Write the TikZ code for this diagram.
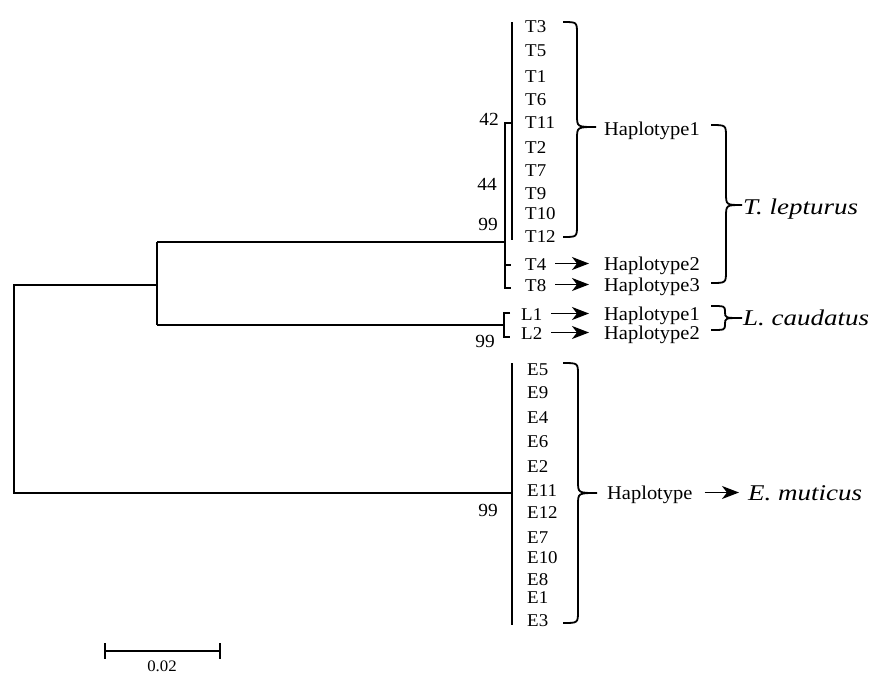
\documentclass[tikz,border=0pt]{standalone}
\usepackage{fontspec}
\setmainfont{Liberation Serif}[FakeStretch=1.05]
\newfontfamily\spfont{Liberation Serif}[FakeStretch=1.2]
\usetikzlibrary{arrows.meta}
\newcommand{\drawbrace}[7]{%
  \draw[bracestyle] (#1,#4) .. controls (#2,#4) .. (#2,{#4+#7}) -- (#2,{#5-#7})
    .. controls (#2,#5) .. (#3,#5) .. controls (#2,#5) .. (#2,{#5+#7})
    -- (#2,{#6-#7}) .. controls (#2,#6) .. (#1,#6);}
\begin{document}
\begin{tikzpicture}[x=1pt,y=-1pt,
  treeline/.style={line width=1.8pt, line join=miter},
  bracestyle/.style={line width=1.8pt},
  leaf/.style={anchor=base west, inner sep=0pt, font=\fontsize{18}{20}\selectfont},
  hap/.style={anchor=base west, inner sep=0pt, font=\fontsize{19.5}{22}\selectfont},
  boot/.style={anchor=base east, inner sep=0pt, font=\fontsize{18.5}{20}\selectfont},
  species/.style={anchor=base west, inner sep=0pt, font=\spfont\itshape\fontsize{22.5}{26}\selectfont},
  arr/.style={line width=1.8pt, -{Stealth[length=17pt,width=13pt,inset=5pt]}}]
\useasboundingbox (0,0) rectangle (870,673);

% tree coordinates
\coordinate (r1) at (14,285);
\coordinate (r2) at (14,493);
\coordinate (n1) at (157,285);
\coordinate (n1t) at (157,242);
\coordinate (n1b) at (157,325);
\coordinate (tn) at (505,242);
\coordinate (tnt) at (505,123);
\coordinate (tnb) at (505,288);
\coordinate (tg) at (512,123);
\coordinate (tgt) at (512,22);
\coordinate (tgb) at (512,240);
\coordinate (t4k) at (505,265);
\coordinate (t4e) at (511,265);
\coordinate (t8e) at (511,288);
\coordinate (ln) at (504,325);
\coordinate (lnt) at (504,313);
\coordinate (lnb) at (504,337);
\coordinate (l1e) at (510,313);
\coordinate (l2e) at (510,337);
\coordinate (en) at (512,493);
\coordinate (ent) at (512,363);
\coordinate (enb) at (512,625);

\draw[treeline] (n1) -- (r1) -- (r2) -- (en);
\draw[treeline] (n1t) -- (n1b);
\draw[treeline] (n1t) -- (tn);
\draw[treeline] (tg) -- (tnt) -- (tnb) -- (t8e);
\draw[treeline] (t4k) -- (t4e);
\draw[treeline] (tgt) -- (tgb);
\draw[treeline] (n1b) -- (ln);
\draw[treeline] (l1e) -- (lnt) -- (lnb) -- (l2e);
\draw[treeline] (ent) -- (enb);

% leaves
\foreach \n/\y in {T3/32,T5/56,T1/82,T6/105,T11/128,T2/153,T7/176,T9/199,T10/219,T12/242}
  \node[leaf] (\n) at (525,\y) {\n};
\node[leaf] (T4) at (525,270) {T4};
\node[leaf] (T8) at (525,291) {T8};
\node[leaf] (L1) at (521,320) {L1};
\node[leaf] (L2) at (521,339) {L2};
\foreach \n/\y in {E5/375,E9/398,E4/423,E6/447,E2/472,E11/496,E12/518,E7/543,E10/563,E8/585,E1/603,E3/626}
  \node[leaf] (\n) at (527,\y) {\n};

% bootstrap values
\node[boot] (b42) at (499,125) {42};
\node[boot] (b44) at (497,190) {44};
\node[boot] (b99t) at (498,230) {99};
\node[boot] (b99l) at (495,347) {99};
\node[boot] (b99e) at (498,516) {99};

% haplotype labels
\node[hap] (H1) at (604,135) {Haplotype1};
\node[hap] (H2) at (604,270) {Haplotype2};
\node[hap] (H3) at (604,291) {Haplotype3};
\node[hap] (LH1) at (604,320) {Haplotype1};
\node[hap] (LH2) at (604,339) {Haplotype2};
\node[hap] (EH) at (607,499) {Haplotype};

% species
\node[species] (tlep) at (743,214) {T. lepturus};
\node[species] (lcau) at (743,325) {L. caudatus};
\node[species] (emut) at (748,500) {E. muticus};

% arrows
\draw[arr, shorten >=15pt] ([xshift=9pt,yshift=6.5pt]T4.base east) -- ([yshift=6.5pt]T4.base east -| H2.west);
\draw[arr, shorten >=15pt] ([xshift=9pt,yshift=6.5pt]T8.base east) -- ([yshift=6.5pt]T8.base east -| H3.west);
\draw[arr, shorten >=15pt] ([xshift=9pt,yshift=6.5pt]L1.base east) -- ([yshift=6.5pt]L1.base east -| LH1.west);
\draw[arr, shorten >=15pt] ([xshift=9pt,yshift=6.5pt]L2.base east) -- ([yshift=6.5pt]L2.base east -| LH2.west);
\draw[arr, shorten >=9pt] ([xshift=12pt,yshift=6.5pt]EH.base east) -- ([yshift=6.5pt]EH.base east -| emut.west);

% braces
\drawbrace{563}{577}{596}{22}{127}{237}{12}
\drawbrace{563}{578}{597}{363}{493}{623}{12}
\drawbrace{711}{726}{742}{125}{205}{283}{12}
\drawbrace{711}{725}{742}{306}{318}{330}{6}

% scale bar
\coordinate (sb1) at (105,651);
\coordinate (sb2) at (220,651);
\draw[treeline] (sb1) -- (sb2);
\draw[treeline] ([yshift=8pt]sb1) -- ([yshift=-8pt]sb1);
\draw[treeline] ([yshift=8pt]sb2) -- ([yshift=-8pt]sb2);
\node[anchor=base, inner sep=0pt, font=\fontsize{16}{18}\selectfont] (sbl) at (162,671) {0.02};
\end{tikzpicture}
\end{document}
